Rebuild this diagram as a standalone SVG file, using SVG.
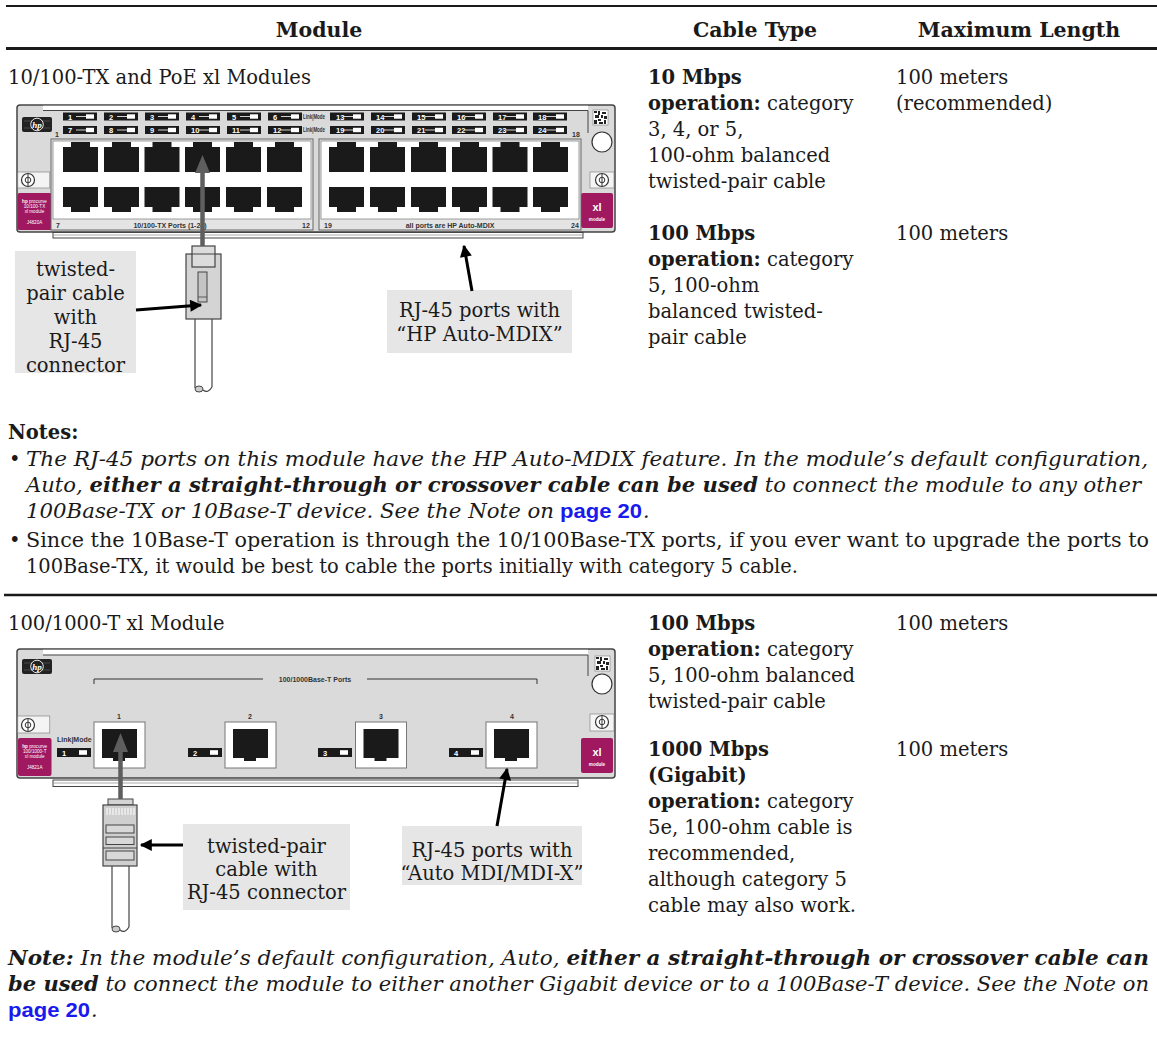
<svg xmlns="http://www.w3.org/2000/svg" xmlns:xlink="http://www.w3.org/1999/xlink" width="1157" height="1058" viewBox="0 0 1157 1058">
<style>
.t{font-family:"DejaVu Serif","Liberation Serif",serif;font-size:19.5px;fill:#1a1a1a}
.h{font-family:"DejaVu Serif","Liberation Serif",serif;font-size:20.5px;font-weight:bold;fill:#1a1a1a}
.b{font-weight:bold}
.i{font-style:italic;font-size:20.5px}
.pg{font-family:"Liberation Sans",Arial,sans-serif;font-weight:bold;font-style:normal;font-size:21px;fill:#1a1aee}
.s{font-family:"Liberation Sans",Arial,sans-serif;font-weight:bold;font-size:7px;fill:#333}
.ln{font-family:"Liberation Sans",Arial,sans-serif;font-weight:bold;font-size:7.5px;fill:#fff}
.w{font-family:"Liberation Sans",Arial,sans-serif;fill:#fff}
.panel{fill:#dadada;stroke:#444;stroke-width:1.5}
.box{fill:#e6e6e6}
.arr{stroke:#000;stroke-width:3;fill:none}
.garr{stroke:#5e5e5e;stroke-width:4.5;fill:none}
.scr{fill:#fff;stroke:#333;stroke-width:1.2}
</style>
<defs>
<marker id="ah" viewBox="0 0 10 10" refX="9" refY="5" markerWidth="5" markerHeight="4" orient="auto" markerUnits="strokeWidth">
<path d="M0,0 L10,5 L0,10 z" fill="#000"/>
</marker>
<g id="led"><rect width="34" height="8" fill="#1a1a1a"/><line x1="13" y1="4" x2="23" y2="4" stroke="#fff" stroke-width="0.8"/><rect x="23" y="1.8" width="8" height="4.4" fill="#fff"/></g>
<g id="led2"><rect width="34" height="9" fill="#1a1a1a"/><rect x="22" y="2.2" width="8" height="4.6" fill="#fff"/></g>
<polygon id="jt" points="0,5 8,5 8,0 27,0 27,5 35,5 35,30 0,30" fill="#1a1a1a"/>
<polygon id="jb" points="0,0 35,0 35,20 27,20 27,25 8,25 8,20 0,20" fill="#1a1a1a"/>
<g id="screw"><circle r="6.5" class="scr"/><circle r="2.8" fill="none" stroke="#333" stroke-width="1"/><line x1="0" y1="-6" x2="0" y2="6" stroke="#333" stroke-width="1"/></g>
<g id="barcode"><rect width="15" height="15" fill="#fff" stroke="#666" stroke-width="0.5"/><rect x="1" y="1" width="3" height="2" fill="#222"/><rect x="5" y="1" width="2" height="4" fill="#222"/><rect x="9" y="2" width="4" height="2" fill="#222"/><rect x="2" y="5" width="4" height="3" fill="#222"/><rect x="8" y="5" width="2" height="3" fill="#222"/><rect x="11" y="6" width="3" height="3" fill="#222"/><rect x="1" y="10" width="3" height="4" fill="#222"/><rect x="5" y="9" width="3" height="2" fill="#222"/><rect x="6" y="12" width="4" height="2" fill="#222"/><rect x="11" y="10" width="2" height="4" fill="#222"/></g>
<g id="hplogo"><rect width="30" height="15" rx="2" fill="#222"/><line x1="2" y1="4" x2="28" y2="4" stroke="#666" stroke-width="0.6"/><line x1="2" y1="11" x2="28" y2="11" stroke="#666" stroke-width="0.6"/><circle cx="15" cy="7.5" r="6.3" fill="#222" stroke="#fff" stroke-width="0.9"/><text x="15" y="10.5" text-anchor="middle" font-family="Liberation Serif,serif" font-style="italic" font-weight="bold" font-size="9" fill="#fff">hp</text></g>
</defs>
<rect width="1157" height="1058" fill="#fff"/>

<!-- table rules -->
<g id="rules">
<line x1="6" y1="6" x2="1157" y2="6" stroke="#1a1a1a" stroke-width="2"/>
<line x1="6" y1="48.5" x2="1157" y2="48.5" stroke="#1a1a1a" stroke-width="3"/>
<line x1="4" y1="595" x2="1157" y2="595" stroke="#1a1a1a" stroke-width="2.5"/>
</g>

<!-- header -->
<g id="header">
<text class="h" x="319" y="37" text-anchor="middle">Module</text>
<text class="h" x="755" y="37" text-anchor="middle">Cable Type</text>
<text class="h" x="1019" y="37" text-anchor="middle">Maximum Length</text>
</g>

<!-- row 1 text -->
<g id="row1-text">
<text class="t" x="8" y="84">10/100-TX and PoE xl Modules</text>
<text class="t" x="648" y="84"><tspan class="b">10 Mbps</tspan></text>
<text class="t" x="648" y="110"><tspan class="b">operation:</tspan> category</text>
<text class="t" x="648" y="136">3, 4, or 5,</text>
<text class="t" x="648" y="162">100-ohm balanced</text>
<text class="t" x="648" y="188">twisted-pair cable</text>
<text class="t" x="648" y="240"><tspan class="b">100 Mbps</tspan></text>
<text class="t" x="648" y="266"><tspan class="b">operation:</tspan> category</text>
<text class="t" x="648" y="292">5, 100-ohm</text>
<text class="t" x="648" y="318">balanced twisted-</text>
<text class="t" x="648" y="344">pair cable</text>
<text class="t" x="896" y="84">100 meters</text>
<text class="t" x="896" y="110">(recommended)</text>
<text class="t" x="896" y="240">100 meters</text>
</g>

<!-- module 1 -->
<g id="module1">
<rect class="panel" x="17" y="105" width="598" height="127" rx="3"/>
<rect x="43" y="105.8" width="545" height="4.5" fill="#fff"/>
<line x1="43" y1="110.5" x2="588" y2="110.5" stroke="#444" stroke-width="1"/>
<line x1="588" y1="110.5" x2="588" y2="133" stroke="#444" stroke-width="1"/>
<rect x="17.8" y="172" width="32" height="16" fill="#f4f4f4" stroke="#777" stroke-width="0.6"/>
<rect x="590" y="172" width="24" height="16" fill="#f4f4f4" stroke="#777" stroke-width="0.6"/>
<use href="#hplogo" x="22" y="117"/>
<use href="#screw" x="28" y="180"/>
<use href="#screw" x="602" y="180"/>
<circle cx="602" cy="142" r="10" class="scr"/>
<use href="#barcode" x="593" y="110"/>
<rect x="17.5" y="193" width="34.5" height="37" rx="2" fill="#a0185f"/>
<text class="w" x="34.5" y="203" text-anchor="middle" font-size="4.6"><tspan font-weight="bold">hp</tspan> procurve</text>
<text class="w" x="34.5" y="208" text-anchor="middle" font-size="4.6">10/100-TX</text>
<text class="w" x="34.5" y="213" text-anchor="middle" font-size="4.6">xl module</text>
<text class="w" x="34.5" y="224" text-anchor="middle" font-size="4.6">J4820A</text>
<rect x="581" y="193" width="32" height="35" rx="2" fill="#a0185f"/>
<text class="w" x="597" y="211" text-anchor="middle" font-size="11" font-weight="bold">xl</text>
<text class="w" x="597" y="221" text-anchor="middle" font-size="4.6" font-weight="bold">module</text>
<rect x="53" y="232.5" width="530" height="5.5" fill="#fff" stroke="#444" stroke-width="1"/>
<line x1="53" y1="235" x2="583" y2="235" stroke="#888" stroke-width="0.7"/>
<rect x="51" y="139" width="262" height="91" fill="#e4e4e4" stroke="#666" stroke-width="1"/>
<rect x="53" y="141" width="258" height="78" fill="#fff" stroke="#888" stroke-width="0.8"/>
<rect x="319" y="139" width="262" height="91" fill="#e4e4e4" stroke="#666" stroke-width="1"/>
<rect x="321" y="141" width="258" height="78" fill="#fff" stroke="#888" stroke-width="0.8"/>
<text class="s" x="56" y="228">7</text>
<text class="s" x="170" y="228" text-anchor="middle">10/100-TX Ports (1-24)</text>
<text class="s" x="302" y="228">12</text>
<text class="s" x="324" y="228">19</text>
<text class="s" x="450" y="228" text-anchor="middle">all ports are HP Auto-MDIX</text>
<text class="s" x="571" y="228">24</text>
<text class="s" x="55" y="137">1</text>
<text class="s" x="572" y="137">18</text>
<text class="s" x="303" y="118.5" font-size="4.2" font-weight="normal" textLength="22" lengthAdjust="spacingAndGlyphs">Link|Mode</text>
<text class="s" x="303" y="132" font-size="4.2" font-weight="normal" textLength="22" lengthAdjust="spacingAndGlyphs">Link|Mode</text>
<use href="#jt" x="63" y="142"/><use href="#jt" x="104" y="142"/><use href="#jt" x="144.5" y="142"/><use href="#jt" x="185" y="142"/><use href="#jt" x="226" y="142"/><use href="#jt" x="267" y="142"/>
<use href="#jt" x="329" y="142"/><use href="#jt" x="370" y="142"/><use href="#jt" x="411" y="142"/><use href="#jt" x="452" y="142"/><use href="#jt" x="492.5" y="142"/><use href="#jt" x="533" y="142"/>
<use href="#jb" x="63" y="187"/><use href="#jb" x="104" y="187"/><use href="#jb" x="144.5" y="187"/><use href="#jb" x="185" y="187"/><use href="#jb" x="226" y="187"/><use href="#jb" x="267" y="187"/>
<use href="#jb" x="329" y="187"/><use href="#jb" x="370" y="187"/><use href="#jb" x="411" y="187"/><use href="#jb" x="452" y="187"/><use href="#jb" x="492.5" y="187"/><use href="#jb" x="533" y="187"/>
<g transform="translate(63,112.5)"><use href="#led"/><text class="ln" x="5" y="7">1</text></g>
<g transform="translate(104,112.5)"><use href="#led"/><text class="ln" x="5" y="7">2</text></g>
<g transform="translate(145,112.5)"><use href="#led"/><text class="ln" x="5" y="7">3</text></g>
<g transform="translate(186,112.5)"><use href="#led"/><text class="ln" x="5" y="7">4</text></g>
<g transform="translate(227,112.5)"><use href="#led"/><text class="ln" x="5" y="7">5</text></g>
<g transform="translate(268,112.5)"><use href="#led"/><text class="ln" x="5" y="7">6</text></g>
<g transform="translate(63,126)"><use href="#led"/><text class="ln" x="5" y="7">7</text></g>
<g transform="translate(104,126)"><use href="#led"/><text class="ln" x="5" y="7">8</text></g>
<g transform="translate(145,126)"><use href="#led"/><text class="ln" x="5" y="7">9</text></g>
<g transform="translate(186,126)"><use href="#led"/><text class="ln" x="5" y="7">10</text></g>
<g transform="translate(227,126)"><use href="#led"/><text class="ln" x="5" y="7">11</text></g>
<g transform="translate(268,126)"><use href="#led"/><text class="ln" x="5" y="7">12</text></g>
<g transform="translate(330,112.5)"><use href="#led"/><text class="ln" x="6" y="7">13</text></g>
<g transform="translate(371,112.5)"><use href="#led"/><text class="ln" x="5" y="7">14</text></g>
<g transform="translate(412,112.5)"><use href="#led"/><text class="ln" x="5" y="7">15</text></g>
<g transform="translate(452,112.5)"><use href="#led"/><text class="ln" x="5" y="7">16</text></g>
<g transform="translate(493,112.5)"><use href="#led"/><text class="ln" x="5" y="7">17</text></g>
<g transform="translate(533,112.5)"><use href="#led"/><text class="ln" x="5" y="7">18</text></g>
<g transform="translate(330,126)"><use href="#led"/><text class="ln" x="6" y="7">19</text></g>
<g transform="translate(371,126)"><use href="#led"/><text class="ln" x="5" y="7">20</text></g>
<g transform="translate(412,126)"><use href="#led"/><text class="ln" x="5" y="7">21</text></g>
<g transform="translate(452,126)"><use href="#led"/><text class="ln" x="5" y="7">22</text></g>
<g transform="translate(493,126)"><use href="#led"/><text class="ln" x="5" y="7">23</text></g>
<g transform="translate(533,126)"><use href="#led"/><text class="ln" x="5" y="7">24</text></g>
</g>

<!-- connector 1 -->
<g id="plug1">
<line x1="195" y1="319" x2="195" y2="388" stroke="#444" stroke-width="1.2"/>
<line x1="212" y1="319" x2="212" y2="387" stroke="#444" stroke-width="1.2"/>
<ellipse cx="199" cy="389" rx="4" ry="3" fill="#ccc" stroke="#444" stroke-width="1"/>
<path d="M203,390 Q208,394 212,387" fill="none" stroke="#444" stroke-width="1.2"/>
<rect x="186" y="254" width="35" height="65" fill="#d4d4d4" stroke="#444" stroke-width="1.2"/>
<rect x="192" y="246" width="23" height="21" fill="#dcdcdc" stroke="#444" stroke-width="1.2"/>
<line x1="192" y1="254" x2="215" y2="254" stroke="#444" stroke-width="1"/>
<rect x="198" y="272" width="9" height="30" fill="#c4c4c4" stroke="#444" stroke-width="1"/>
<line x1="198" y1="297" x2="207" y2="297" stroke="#444" stroke-width="0.8"/>
</g>

<!-- connector 2 -->
<g id="plug2">
<line x1="112" y1="866" x2="112" y2="928" stroke="#444" stroke-width="1.2"/>
<line x1="129" y1="866" x2="129" y2="927" stroke="#444" stroke-width="1.2"/>
<ellipse cx="116" cy="929" rx="4" ry="3" fill="#ccc" stroke="#444" stroke-width="1"/>
<path d="M120,930 Q125,934 129,927" fill="none" stroke="#444" stroke-width="1.2"/>
<rect x="108" y="799" width="25" height="6" fill="#d4d4d4" stroke="#444" stroke-width="1"/>
<rect x="103" y="805" width="34" height="61" fill="#cfcfcf" stroke="#444" stroke-width="1.2"/>
<path d="M107,808 V815 M110,808 V815 M113,808 V815 M116,808 V815 M119,808 V815 M122,808 V815 M125,808 V815 M128,808 V815 M131,808 V815 M134,808 V815" stroke="#fff" stroke-width="1"/>
<rect x="106" y="825" width="28" height="8" fill="#d8d8d8" stroke="#444" stroke-width="1"/>
<rect x="106" y="837" width="28" height="7.5" fill="#d8d8d8" stroke="#444" stroke-width="1"/>
<line x1="103" y1="848" x2="137" y2="848" stroke="#444" stroke-width="1"/>
<rect x="106" y="851" width="28" height="9" fill="#d8d8d8" stroke="#444" stroke-width="1"/>
</g>

<!-- labels -->
<g id="label1">
<rect class="box" x="15" y="251" width="121" height="122"/>
<text class="t" x="75.5" y="276" text-anchor="middle">twisted-</text>
<text class="t" x="75.5" y="300" text-anchor="middle">pair cable</text>
<text class="t" x="75.5" y="324" text-anchor="middle">with</text>
<text class="t" x="75.5" y="348" text-anchor="middle">RJ-45</text>
<text class="t" x="75.5" y="372" text-anchor="middle">connector</text>
</g>
<g id="label2">
<rect class="box" x="387" y="290" width="185" height="63"/>
<text class="t" x="479.5" y="317" text-anchor="middle">RJ-45 ports with</text>
<text class="t" x="479.5" y="341" text-anchor="middle">“HP Auto-MDIX”</text>
</g>
<g id="label3">
<rect class="box" x="183" y="824" width="167" height="86"/>
<text class="t" x="266.5" y="853" text-anchor="middle">twisted-pair</text>
<text class="t" x="266.5" y="876" text-anchor="middle">cable with</text>
<text class="t" x="266.5" y="899" text-anchor="middle">RJ-45 connector</text>
</g>
<g id="label4">
<rect class="box" x="402" y="826" width="180" height="59"/>
<text class="t" x="492" y="857" text-anchor="middle">RJ-45 ports with</text>
<text class="t" x="492" y="880" text-anchor="middle">“Auto MDI/MDI-X”</text>
</g>

<!-- module 2 -->
<g id="module2">
<rect class="panel" x="17" y="649" width="598" height="129" rx="3"/>
<rect x="43" y="649.8" width="545" height="5" fill="#fff"/>
<line x1="43" y1="655" x2="588" y2="655" stroke="#444" stroke-width="1"/>
<line x1="588" y1="655" x2="588" y2="676" stroke="#444" stroke-width="1"/>
<rect x="17.8" y="716" width="32" height="17" fill="#f4f4f4" stroke="#777" stroke-width="0.6"/>
<rect x="590" y="714" width="24" height="17" fill="#f4f4f4" stroke="#777" stroke-width="0.6"/>
<use href="#hplogo" x="22" y="659"/>
<use href="#screw" x="28" y="725"/>
<use href="#screw" x="602" y="722"/>
<circle cx="602" cy="684" r="10" class="scr"/>
<use href="#barcode" x="595" y="656"/>
<rect x="18" y="738" width="33.5" height="38" rx="2" fill="#a0185f"/>
<text class="w" x="34.7" y="748" text-anchor="middle" font-size="4.6"><tspan font-weight="bold">hp</tspan> procurve</text>
<text class="w" x="34.7" y="753" text-anchor="middle" font-size="4.6">100/1000-T</text>
<text class="w" x="34.7" y="758" text-anchor="middle" font-size="4.6">xl module</text>
<text class="w" x="34.7" y="769" text-anchor="middle" font-size="4.6">J4821A</text>
<rect x="581" y="738" width="32" height="35" rx="2" fill="#a0185f"/>
<text class="w" x="597" y="756" text-anchor="middle" font-size="11" font-weight="bold">xl</text>
<text class="w" x="597" y="766" text-anchor="middle" font-size="4.6" font-weight="bold">module</text>
<rect x="53" y="780" width="525" height="6.5" fill="#fff" stroke="#444" stroke-width="1"/>
<line x1="53" y1="783" x2="578" y2="783" stroke="#888" stroke-width="0.7"/>
<path d="M94,684 V679 H263 M367,679 H537 V684" fill="none" stroke="#333" stroke-width="1"/>
<text class="s" x="315" y="682" text-anchor="middle">100/1000Base-T Ports</text>
<text class="s" x="119" y="719" text-anchor="middle">1</text>
<text class="s" x="250" y="719" text-anchor="middle">2</text>
<text class="s" x="381" y="719" text-anchor="middle">3</text>
<text class="s" x="512" y="719" text-anchor="middle">4</text>
<text class="s" x="57" y="742" font-size="6">Link|Mode</text>
<g id="ports2">
<rect x="94" y="722" width="51" height="46" fill="#fff" stroke="#777" stroke-width="1"/>
<rect x="225" y="722" width="51" height="46" fill="#fff" stroke="#777" stroke-width="1"/>
<rect x="355.5" y="722" width="51" height="46" fill="#fff" stroke="#777" stroke-width="1"/>
<rect x="486" y="722" width="51" height="46" fill="#fff" stroke="#777" stroke-width="1"/>
<path d="M102,729 h35 v29 h-12 v3 h-12 v-3 h-11 z" fill="#1a1a1a"/>
<path d="M233,729 h35 v29 h-12 v3 h-12 v-3 h-11 z" fill="#1a1a1a"/>
<path d="M363.5,729 h35 v29 h-12 v3 h-12 v-3 h-11 z" fill="#1a1a1a"/>
<path d="M494,729 h35 v29 h-12 v3 h-12 v-3 h-11 z" fill="#1a1a1a"/>
</g>
<g transform="translate(57,748)"><use href="#led2"/><text class="ln" x="5" y="7.5">1</text></g>
<g transform="translate(188,748)"><use href="#led2"/><text class="ln" x="5" y="7.5">2</text></g>
<g transform="translate(318,748)"><use href="#led2"/><text class="ln" x="5" y="7.5">3</text></g>
<g transform="translate(449,748)"><use href="#led2"/><text class="ln" x="5" y="7.5">4</text></g>
</g>

<!-- connectors -->
<g id="connectors">
<line class="garr" x1="202.5" y1="246" x2="202.5" y2="172"/>
<polygon points="195,173 210,173 202.5,155" fill="#5e5e5e"/>
<line class="garr" x1="120.5" y1="799" x2="120.5" y2="751"/>
<polygon points="113,752 128,752 120.5,733" fill="#5e5e5e"/>
<line class="arr" x1="136" y1="310" x2="201" y2="305" marker-end="url(#ah)"/>
<line class="arr" x1="472" y1="291" x2="464" y2="246" marker-end="url(#ah)"/>
<line class="arr" x1="183" y1="845" x2="141" y2="845" marker-end="url(#ah)"/>
<line class="arr" x1="497" y1="826" x2="507" y2="769" marker-end="url(#ah)"/>
</g>

<!-- notes -->
<g id="notes">
<text class="t b" x="8" y="439">Notes:</text>
<text class="t" x="9" y="466">•</text>
<text class="t i" x="26" y="466" textLength="1122" lengthAdjust="spacingAndGlyphs">The RJ-45 ports on this module have the HP Auto-MDIX feature. In the module’s default configuration,</text>
<text class="t i" x="26" y="492" textLength="1115" lengthAdjust="spacingAndGlyphs">Auto, <tspan class="b">either a straight-through or crossover cable can be used</tspan> to connect the module to any other</text>
<text class="t i" x="26" y="518" textLength="528" lengthAdjust="spacingAndGlyphs">100Base-TX or 10Base-T device. See the Note on</text>
<text class="pg" x="560" y="518" textLength="82" lengthAdjust="spacingAndGlyphs">page 20</text>
<text class="t i" x="643" y="518">.</text>
<text class="t" x="9" y="547">•</text>
<text class="t" x="26" y="547" textLength="1123" lengthAdjust="spacingAndGlyphs">Since the 10Base-T operation is through the 10/100Base-TX ports, if you ever want to upgrade the ports to</text>
<text class="t" x="26" y="573" textLength="772" lengthAdjust="spacingAndGlyphs">100Base-TX, it would be best to cable the ports initially with category 5 cable.</text>
</g>

<!-- row 2 text -->
<g id="row2-text">
<text class="t" x="8" y="630">100/1000-T xl Module</text>
<text class="t" x="648" y="630"><tspan class="b">100 Mbps</tspan></text>
<text class="t" x="648" y="656"><tspan class="b">operation:</tspan> category</text>
<text class="t" x="648" y="682">5, 100-ohm balanced</text>
<text class="t" x="648" y="708">twisted-pair cable</text>
<text class="t" x="648" y="756"><tspan class="b">1000 Mbps</tspan></text>
<text class="t" x="648" y="782"><tspan class="b">(Gigabit)</tspan></text>
<text class="t" x="648" y="808"><tspan class="b">operation:</tspan> category</text>
<text class="t" x="648" y="834">5e, 100-ohm cable is</text>
<text class="t" x="648" y="860">recommended,</text>
<text class="t" x="648" y="886">although category 5</text>
<text class="t" x="648" y="912">cable may also work.</text>
<text class="t" x="896" y="630">100 meters</text>
<text class="t" x="896" y="756">100 meters</text>
</g>

<!-- bottom note -->
<g id="bottom-note">
<text class="t i" x="8" y="965" textLength="1141" lengthAdjust="spacingAndGlyphs"><tspan class="b">Note:</tspan> In the module’s default configuration, Auto, <tspan class="b">either a straight-through or crossover cable can</tspan></text>
<text class="t i" x="8" y="991" textLength="1141" lengthAdjust="spacingAndGlyphs"><tspan class="b">be used</tspan> to connect the module to either another Gigabit device or to a 100Base-T device. See the Note on</text>
<text class="pg" x="8" y="1017" textLength="82" lengthAdjust="spacingAndGlyphs">page 20</text>
<text class="t i" x="91" y="1017">.</text>
</g>
</svg>
